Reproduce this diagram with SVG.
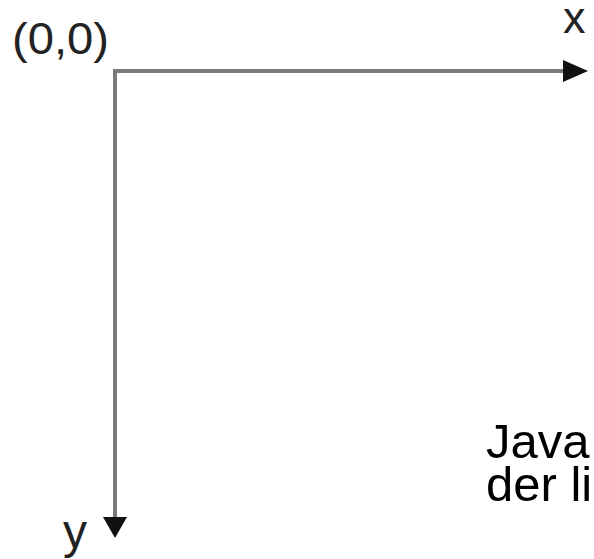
<svg xmlns="http://www.w3.org/2000/svg" width="594" height="559" viewBox="0 0 594 559">
<style>
.axis{stroke:#7a7a7a;stroke-width:4;fill:none}
.head{fill:#111}
.lbl{font-family:"Liberation Sans",Arial,sans-serif;fill:#222}
.txt{font-family:"Liberation Sans",Arial,sans-serif;fill:#000;font-size:49px}
</style>
<rect width="594" height="559" fill="#fff"/>
<g id="connectors">
<line class="axis" x1="113" y1="71" x2="566" y2="71"/>
<polygon class="head" points="563,60 588,71 563,82"/>
<line class="axis" x1="115" y1="69" x2="115" y2="520"/>
<polygon class="head" points="103,517 127,517 115,538"/>
</g>
<g id="origin"><text class="lbl" x="12" y="54" font-size="44" textLength="97" lengthAdjust="spacingAndGlyphs">(0,0)</text></g>
<g id="xlabel"><text class="lbl" x="563" y="33" font-size="45">x</text></g>
<g id="ylabel"><text class="lbl" x="63" y="548" font-size="48">y</text></g>
<g id="note">
<text class="txt" x="486" y="458">Java</text>
<text class="txt" x="486" y="501">der li</text>
</g>
</svg>
